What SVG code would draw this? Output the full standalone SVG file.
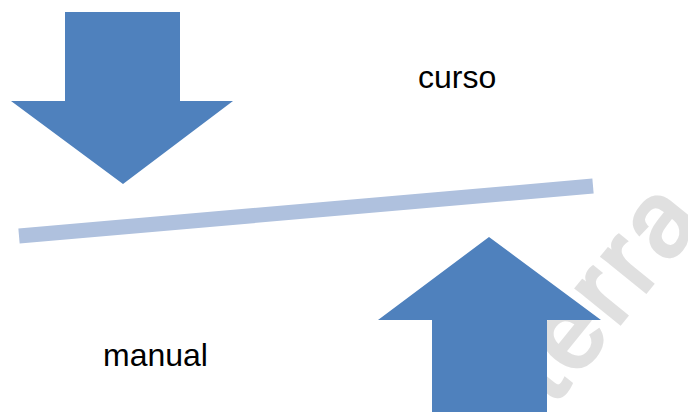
<svg xmlns="http://www.w3.org/2000/svg" width="688" height="412" viewBox="0 0 688 412">
<style>
.arrow{fill:#4f81bd}
.lbl{font-family:"Liberation Sans",Arial,sans-serif;font-size:32px;fill:#000}
.wm{font-family:"Liberation Sans",Arial,sans-serif;font-size:105px;fill:#e0e0e0;stroke:#e0e0e0;stroke-width:4;letter-spacing:6px}
</style>
<rect width="688" height="412" fill="#fff"/>
<text class="wm" transform="translate(553,406) rotate(-51)">terra</text>
<g id="connectors">
<line x1="19" y1="236" x2="593" y2="186" stroke="#afc1de" stroke-width="15"/>
</g>
<g id="arrow-down">
<polygon class="arrow" points="65,12 180,12 180,101 233,101 123,184 11,101 65,101"/>
</g>
<g id="arrow-up">
<polygon class="arrow" points="489,237 601,320 547,320 547,412 432,412 432,320 378,320"/>
</g>
<g id="curso"><text class="lbl" x="418" y="88">curso</text></g>
<g id="manual"><text class="lbl" x="103" y="366">manual</text></g>
</svg>
